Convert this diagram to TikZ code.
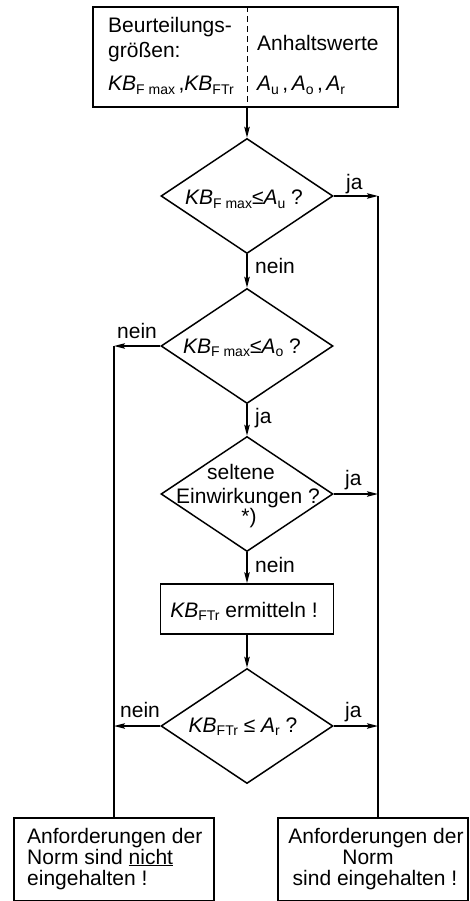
\documentclass[tikz,border=0pt]{standalone}
\usepackage{fontspec}
\setmainfont{Liberation Sans}
\usetikzlibrary{shapes.geometric,arrows.meta}
\newcommand\Sb[1]{\raisebox{-0.35ex}{\fontsize{14}{14}\selectfont #1}}
\newcommand\KB{\textit{KB}}
\newcommand\Av{\textit{A}}
\begin{document}
\begin{tikzpicture}[x=1pt,y=-1pt,
  every node/.style={font=\fontsize{21}{21}\selectfont, inner sep=0pt},
  line/.style={line width=1.5pt},
  arr/.style={line width=1.5pt,-{Stealth[length=11pt,width=5.5pt,inset=2pt]}},
  dia/.style={draw,line width=1.5pt,diamond,minimum width=172pt,minimum height=115pt},
  box/.style={draw,line width=1.5pt,rectangle},
  txt/.style={anchor=base west},
  ctxt/.style={anchor=base}]
\useasboundingbox (0,0) rectangle (469,901);

% top box
\node[box,minimum width=305pt,minimum height=100pt] (top) at (245.5,57) {};
\coordinate (dv) at (247,0);
\draw[line width=1pt,dash pattern=on 6pt off 4pt] (top.north -| dv) -- (top.south -| dv);
\node[txt] (t1) at (108,33) {Beurteilungs-};
\node[txt] (t2) at (108,58) {größen:};
\node[txt] (t3) at (108,91) {\KB\Sb{F max}\,,\KB\Sb{FTr}};
\node[txt] (t4) at (257,51) {Anhaltswerte};
\node[txt] (t5) at (257,91) {\Av\Sb{u}\,,\,\Av\Sb{o}\,,\,\Av\Sb{r}};

% diamonds
\node[dia] (d1) at (247,196) {};
\node[ctxt] (d1t) at (244,205) {\KB\Sb{F max}≤\Av\Sb{u} ?};
\node[dia] (d2) at (247,346) {};
\node[ctxt] (d2t) at (242,353) {\KB\Sb{F max}≤\Av\Sb{o} ?};
\node[dia] (d3) at (247,494) {};
\node[ctxt] (d3a) at (241,479) {seltene};
\node[ctxt] (d3b) at (248,503) {Einwirkungen ?};
\node[ctxt] (d3c) at (249,523) {*)};
\node[box,minimum width=173pt,minimum height=50pt] (r) at (247,609) {};
\node[ctxt] (rt) at (244,617) {\KB\Sb{FTr} ermitteln !};
\node[dia] (d4) at (247,726) {};
\node[ctxt] (d4t) at (243,732) {\KB\Sb{FTr} ≤ \Av\Sb{r} ?};

% bottom boxes
\node[box,minimum width=200pt,minimum height=83pt,anchor=north west] (lb) at (13,817) {};
\node[txt] (l1) at (27,843) {Anforderungen der};
\node[txt] (l2) at (27,864) {Norm sind \underline{nicht}};
\node[txt] (l3) at (27,885) {eingehalten !};
\node[box,minimum width=190pt,minimum height=83pt,anchor=north west] (rb) at (277,817) {};
\node[ctxt] (r1) at (376,843) {Anforderungen der};
\node[ctxt] (r2) at (368,864) {Norm};
\node[ctxt] (r3) at (375,885) {sind eingehalten !};

% side lines
\coordinate (lc) at (114,346);
\coordinate (rc) at (378,196);

% connectors
\draw[arr] (top.south -| dv) -- (d1.north);
\draw[arr] (d1.south) -- (d2.north);
\draw[arr] (d2.south) -- (d3.north);
\draw[arr] (d3.south) -- (r.north);
\draw[arr] (r.south) -- (d4.north);
\draw[arr] (d1.east) -- (rc);
\draw[arr] (d2.west) -- (lc);
\draw[arr] (d3.east) -- (d3.east -| rc);
\draw[arr] (d4.east) -- (d4.east -| rc);
\draw[arr] (d4.west) -- (d4.west -| lc);
\draw[line] (rc) -- (rb.north -| rc);
\draw[line] (lc) -- (lb.north -| lc);

% labels
\node[txt] (ja1) at (346,190) {ja};
\node[txt] (ne1) at (255,273) {nein};
\node[txt] (ne2) at (117,338) {nein};
\node[txt] (ja2) at (255,423) {ja};
\node[txt] (ja3) at (345,485) {ja};
\node[txt] (ne3) at (255,572) {nein};
\node[txt] (ne4) at (120,717) {nein};
\node[txt] (ja4) at (345,717) {ja};
\end{tikzpicture}
\end{document}
